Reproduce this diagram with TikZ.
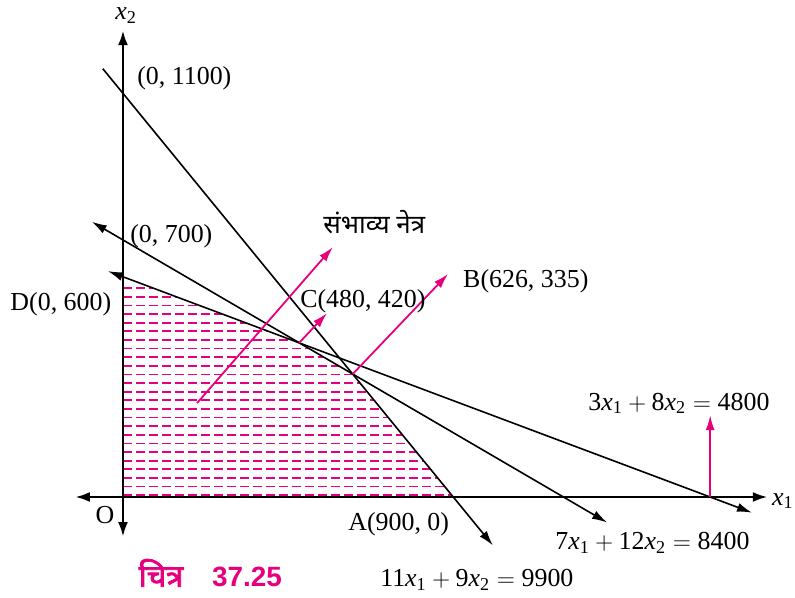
\documentclass[tikz,border=0pt]{standalone}
\usepackage{amsmath}
\usepackage{fontspec}
\setmainfont{Liberation Serif}
\newfontfamily\hindifont[Script=Devanagari]{Noto Sans}
\newfontfamily\hindibold[Script=Devanagari,FakeBold=2.5]{Noto Sans}
\newfontfamily\figfont{Liberation Sans}
\usetikzlibrary{arrows.meta}
\definecolor{rubine}{RGB}{230,0,126}
\newcommand{\xv}[1]{\textit{x}_{\textrm{#1}}}
\newcommand{\nr}[1]{\textrm{#1}}

\begin{document}
\begin{tikzpicture}[
x=0.1835bp,
y=0.1835bp,
every node/.style={font=\fontsize{13}{15}\selectfont, inner sep=0pt},
axis/.style={line width=1.4bp, {Latex[length=7.5bp,width=5bp]}-{Latex[length=7.5bp,width=5bp]}},
cline/.style={line width=0.8bp},
tip/.style={-{Latex[length=7.5bp,width=4.5bp]}},
tips/.style={{Latex[length=7.5bp,width=4.5bp]}-{Latex[length=7.5bp,width=4.5bp]}},
push/.style={rubine, line width=0.9bp, -{Latex[length=7.5bp,width=4.5bp]}},
hatch/.style={rubine, line width=0.9bp, dash pattern=on 4.5bp off 2bp}
]
\useasboundingbox (-335.1,-275.2) rectangle (1831.1,1354.2);

\coordinate (O) at (0,0);
\coordinate (A) at (900,0);
\coordinate (B) at (626,335);
\coordinate (C) at (480,420);
\coordinate (D) at (0,600);

\begin{scope}
\clip (O) -- (A) -- (B) -- (C) -- (D) -- cycle;
\foreach \k in {0,...,24}
  \draw[hatch] (0,{5+23.5*\k}) -- (1000,{5+23.5*\k});
\end{scope}

\coordinate (xl) at (-131,0);
\coordinate (xr) at (1757,0);
\coordinate (yb) at (0,-109);
\coordinate (yt) at (0,1272);
\draw[axis] (xl) -- (xr);
\draw[axis] (yb) -- (yt);

\coordinate (l1s) at (-55,1167);
\coordinate (l1e) at (1008,-132);
\coordinate (l2s) at (-85,750);
\coordinate (l2e) at (1319,-69.4);
\coordinate (l3s) at (-41,615.4);
\coordinate (l3e) at (1714,-42.75);
\draw[cline,tip] (l1s) -- (l1e);
\draw[cline,tips] (l2s) -- (l2e);
\draw[cline,tips] (l3s) -- (l3e);

\coordinate (m1s) at (202,256);
\coordinate (m1e) at (572,681);
\coordinate (mc) at (556,501);
\coordinate (mb) at (886,608);
\coordinate (E) at (1600,0);
\coordinate (me) at (1600,223);
\draw[push] (m1s) -- (m1e);
\draw[push] (C) -- (mc);
\draw[push] (B) -- (mb);
\draw[push] (E) -- (me);

\node[anchor=base west] (x1) at (1768,-21.8) {$\xv1$};
\node[anchor=base west] (x2) at (-22,1300) {$\xv2$};
\node[anchor=base] (o) at (-49,-71.7) {O};
\node[anchor=base west] (p1100) at (38,1125) {(0, 1100)};
\node[anchor=base west] (p700) at (19,693) {(0, 700)};
\node[anchor=base east] (dl) at (-31,509.5) {D(0, 600)};
\node[anchor=base west] (cl) at (482,517) {C(480, 420)};
\node[anchor=base west] (bl) at (926,571) {B(626, 335)};
\node[anchor=base west] (al) at (613,-90) {A(900, 0)};
\node[anchor=base west] (reg) at (545,719) {\hindifont संभाव्य नेत्र};
\node[anchor=base west] (e3) at (1267,237) {$\nr{3}\xv1 + \nr{8}\xv2 = \nr{4800}$};
\node[anchor=base west] (e2) at (1177,-144.4) {$\nr{7}\xv1 + \nr{12}\xv2 = \nr{8400}$};
\node[anchor=base west] (e1) at (700,-244.4) {$\nr{11}\xv1 + \nr{9}\xv2 = \nr{9900}$};
\node[anchor=base west, rubine, font=\fontsize{15.5}{17}\selectfont\hindibold] (fig) at (41.8,-244.4) {चित्र};
\node[anchor=base west, rubine, font=\fontsize{14}{16}\selectfont\figfont\bfseries] (fignum) at (241.7,-244.4) {37.25};
\end{tikzpicture}
\end{document}
